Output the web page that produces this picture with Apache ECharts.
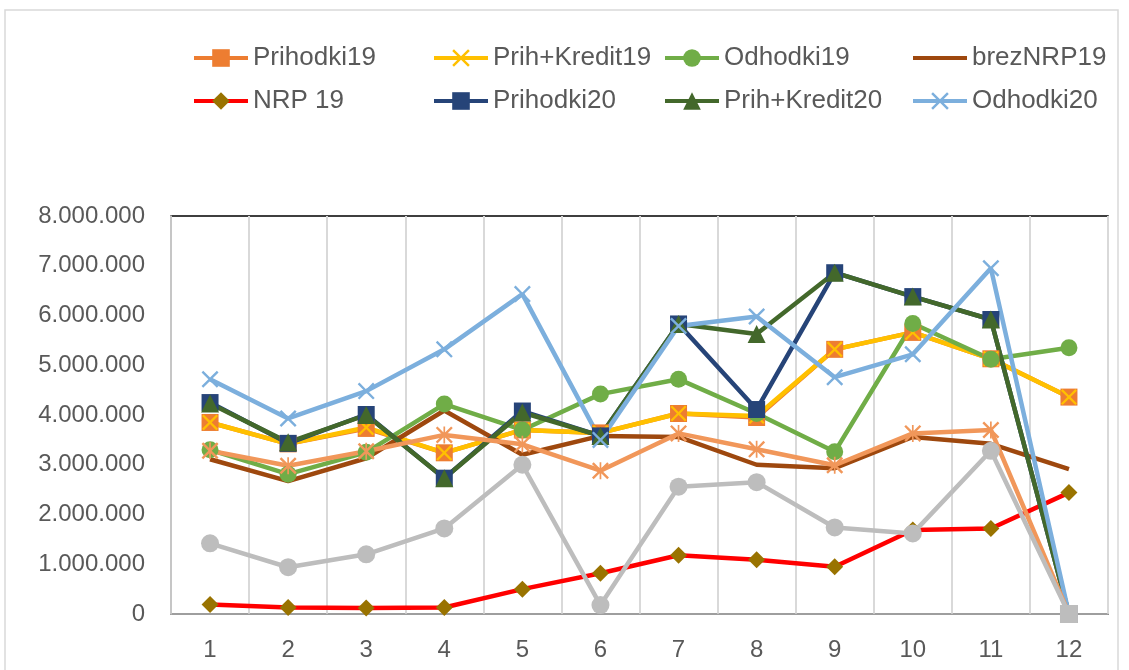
<!DOCTYPE html>
<html>
<head>
<meta charset="utf-8">
<script src="https://cdn.jsdelivr.net/npm/echarts@6/dist/echarts.min.js"></script>
<style>
  html, body { margin: 0; padding: 0; background: #fff; }
  #chart { width: 1129px; height: 670px; }
</style>
</head>
<body>
<div id="chart"></div>
<script>
const months = ["1", "2", "3", "4", "5", "6", "7", "8", "9", "10", "11", "12"];
const yTicks = [0, 1000000, 2000000, 3000000, 4000000, 5000000, 6000000, 7000000, 8000000];

const prihodki19 = [3850000, 3420000, 3730000, 3240000, 3700000, 3640000, 4030000, 3950000, 5320000, 5660000, 5130000, 4360000];
const prihKredit19 = [3850000, 3420000, 3750000, 3240000, 3700000, 3640000, 4030000, 3980000, 5320000, 5660000, 5130000, 4360000];
const odhodki19 = [3300000, 2810000, 3250000, 4220000, 3700000, 4420000, 4720000, 4030000, 3260000, 5840000, 5120000, 5350000];
const brezNRP19 = [3110000, 2670000, 3130000, 4090000, 3200000, 3580000, 3560000, 3000000, 2930000, 3560000, 3420000, 2910000];
const nrp19 = [190000, 130000, 120000, 130000, 500000, 820000, 1180000, 1090000, 950000, 1690000, 1720000, 2440000];
const prihodki20 = [4250000, 3430000, 4010000, 2730000, 4080000, 3580000, 5830000, 4110000, 6860000, 6380000, 5920000, 0];
const prihKredit20 = [4230000, 3450000, 4000000, 2730000, 4050000, 3580000, 5830000, 5630000, 6860000, 6380000, 5920000, 0];
const odhodki20 = [4720000, 3930000, 4480000, 5320000, 6430000, 3500000, 5790000, 5980000, 4760000, 5220000, 6950000, 0];
const brezNRP20 = [3280000, 2980000, 3270000, 3600000, 3410000, 2880000, 3630000, 3310000, 2990000, 3630000, 3700000, 0];
const nrp20 = [1420000, 940000, 1200000, 1720000, 3000000, 180000, 2560000, 2650000, 1740000, 1620000, 3280000, 0];

// x and asterisk markers as filled outlines
const xMark = "path://M0,1L1,0L5,4L9,0L10,1L6,5L10,9L9,10L5,6L1,10L0,9L4,5Z";
const starMark = xMark + "M4.5,0L5.5,0L5.5,10L4.5,10Z";

function fmt(v) {
  return String(v).replace(/\B(?=(\d{3})+(?!\d))/g, ".");
}

function line(name, data, color, symbol, size, markerColor) {
  return {
    name: name,
    type: "line",
    data: data,
    symbol: symbol,
    symbolSize: size,
    showSymbol: symbol !== "none",
    lineStyle: { color: color, width: 4.5 },
    itemStyle: { color: markerColor || color, opacity: 1 },
    emphasis: { disabled: true },
    animation: false
  };
}

const chart = echarts.init(document.getElementById("chart"));

const legendText = { fontSize: 26, color: "#595959", fontFamily: "Liberation Sans" };
function legendCol(left, names) {
  return {
    orient: "vertical",
    left: left,
    top: 45,
    padding: 0,
    itemWidth: 54,
    itemHeight: 22,
    itemGap: 17,
    lineStyle: { width: 4 },
    textStyle: legendText,
    data: names
  };
}

// NRP 20 ends in a square marker at month 12
const nrp20Data = nrp20.map((v, i) => i === nrp20.length - 1 ? { value: v, symbol: "rect" } : v);

chart.setOption({
  backgroundColor: "#fff",
  graphic: [{
    type: "rect",
    shape: { x: 5, y: 10, width: 1113, height: 680 },
    style: { fill: "none", stroke: "#D9D9D9", lineWidth: 1.5 },
    silent: true
  }],
  legend: [
    legendCol(192, ["Prihodki19", "NRP 19"]),
    legendCol(432, ["Prih+Kredit19", "Prihodki20"]),
    legendCol(663, ["Odhodki19", "Prih+Kredit20"]),
    legendCol(911, [{ name: "brezNRP19", itemStyle: { opacity: 0 } }, "Odhodki20"])
  ],
  grid: {
    left: 171, right: 21, top: 216, bottom: 56,
    show: true, borderColor: "#000", borderWidth: 1.5
  },
  xAxis: {
    type: "category",
    data: months,
    boundaryGap: true,
    axisLine: { lineStyle: { color: "#BFBFBF", width: 1.5 } },
    axisTick: { show: false },
    axisLabel: { fontSize: 24, color: "#595959", margin: 24, fontFamily: "Liberation Sans" },
    splitLine: { show: true, interval: 0, lineStyle: { color: "#D9D9D9", width: 2 } }
  },
  yAxis: {
    type: "value",
    min: yTicks[0],
    max: yTicks[yTicks.length - 1],
    interval: yTicks[1] - yTicks[0],
    axisLine: { show: true, lineStyle: { color: "#BFBFBF", width: 1.5 } },
    axisTick: { show: false },
    splitLine: { show: false },
    axisLabel: { fontSize: 24, color: "#595959", margin: 26, fontFamily: "Liberation Sans", formatter: fmt }
  },
  series: [
    line("Prihodki19", prihodki19, "#ED7D31", "rect", 17),
    line("Prih+Kredit19", prihKredit19, "#FFC000", xMark, 16),
    line("Odhodki19", odhodki19, "#70AD47", "circle", 17),
    line("brezNRP19", brezNRP19, "#9E480E", "none", 0),
    line("NRP 19", nrp19, "#FF0000", "diamond", 17, "#997300"),
    line("Prihodki20", prihodki20, "#264478", "rect", 17),
    line("Prih+Kredit20", prihKredit20, "#43682B", "triangle", 18),
    line("Odhodki20", odhodki20, "#7CAFDD", xMark, 17),
    line("brezNRP20", brezNRP20, "#F1975A", starMark, 17),
    line("NRP 20", nrp20Data, "#BDBDBD", "circle", 18)
  ]
});
</script>
</body>
</html>
